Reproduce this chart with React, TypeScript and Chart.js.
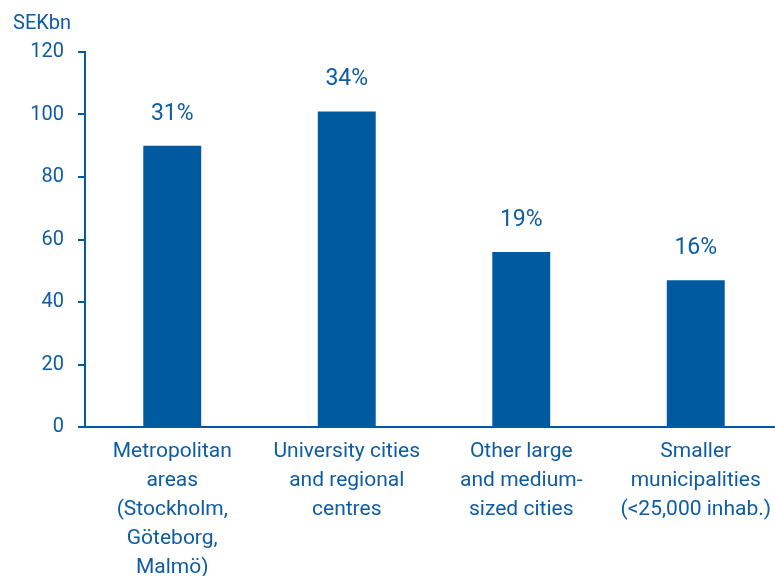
import React, { useEffect, useRef } from "react";
import { Chart, registerables } from "chart.js";

Chart.register(...registerables);

const categories: string[][] = [
  ["Metropolitan", "areas", "(Stockholm,", "Göteborg,", "Malmö)"],
  ["University cities", "and regional", "centres"],
  ["Other large", "and medium-", "sized cities"],
  ["Smaller", "municipalities", "(<25,000 inhab.)"],
];
const values: number[] = [90, 101, 56, 47];
const shareLabels: string[] = ["31%", "34%", "19%", "16%"];
const yTicks: number[] = [0, 20, 40, 60, 80, 100, 120];
const unitLabel = "SEKbn";

const BLUE = "#005A9F";
const TEXT = "#0E5CA3";
const FONT = "Roboto, 'DejaVu Sans', sans-serif";

export default function App() {
  const ref = useRef<HTMLCanvasElement | null>(null);

  useEffect(() => {
    document.body.style.margin = "0";
    if (!ref.current) return;
    const labelPlugin = {
      id: "extraLabels",
      afterDatasetsDraw(chart: any) {
        const ctx = chart.ctx;
        ctx.save();
        ctx.fillStyle = TEXT;
        ctx.font = `23px ${FONT}`;
        ctx.textAlign = "center";
        ctx.textBaseline = "alphabetic";
        const meta = chart.getDatasetMeta(0);
        meta.data.forEach((el: any, i: number) => {
          ctx.fillText(shareLabels[i], el.x, el.y - 26);
        });
        ctx.font = `20px ${FONT}`;
        ctx.textAlign = "left";
        ctx.fillText(unitLabel, 13, 29);
        ctx.restore();
      },
    };
    const chart = new Chart(ref.current, {
      type: "bar",
      data: {
        labels: categories,
        datasets: [
          {
            data: values,
            backgroundColor: BLUE,
            borderWidth: 0,
            categoryPercentage: 1,
            barPercentage: 0.332,
          },
        ],
      },
      options: {
        animation: false,
        responsive: false,
        maintainAspectRatio: false,
        layout: { padding: { top: 52, left: 0, right: 0, bottom: 0 } },
        plugins: {
          legend: { display: false },
          tooltip: { enabled: false },
        },
        scales: {
          x: {
            grid: { display: false, drawTicks: false },
            border: { color: BLUE, width: 2 },
            ticks: {
              color: TEXT,
              font: { family: FONT, size: 21, lineHeight: 1.38 },
              padding: 10,
              maxRotation: 0,
              autoSkip: false,
            },
            afterFit: (s: any) => {
              s.height = 149;
            },
          },
          y: {
            min: 0,
            max: 120,
            afterBuildTicks: (s: any) => {
              s.ticks = yTicks.map((v) => ({ value: v }));
            },
            grid: {
              display: true,
              drawOnChartArea: false,
              drawTicks: true,
              tickLength: 7,
              color: BLUE,
              lineWidth: 2,
            },
            border: { color: BLUE, width: 2 },
            ticks: {
              color: TEXT,
              font: { family: FONT, size: 20 },
              padding: 14,
            },
            afterFit: (s: any) => {
              s.width = 85;
            },
          },
        },
      },
      plugins: [labelPlugin],
    });
    return () => chart.destroy();
  }, []);

  return (
    <div
      style={{
        position: "absolute",
        left: 0,
        top: 0,
        width: 775,
        height: 576,
        overflow: "hidden",
        background: "#fff",
      }}
    >
      <canvas ref={ref} width={783} height={576} style={{ display: "block" }} />
    </div>
  );
}
